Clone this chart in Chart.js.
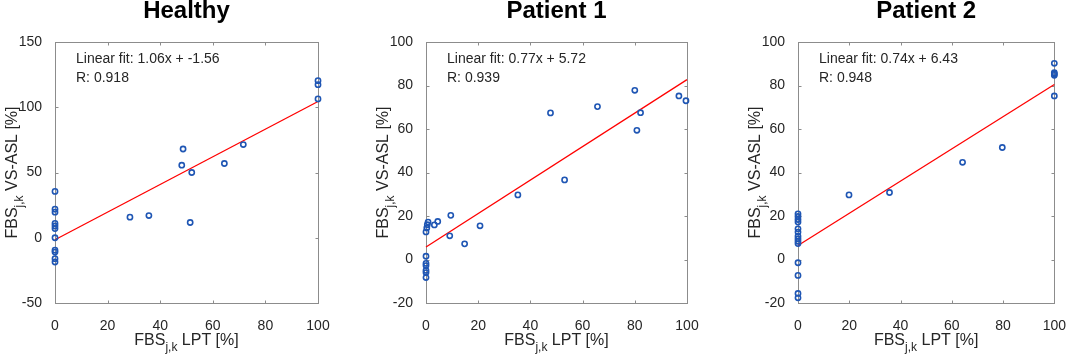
<!DOCTYPE html>
<html>
<head>
<meta charset="utf-8">
<script src="https://cdn.jsdelivr.net/npm/chart.js@4.4.0/dist/chart.umd.min.js"></script>
<style>
html, body { margin: 0; padding: 0; background: #fff; }
#wrap { position: relative; width: 1073px; height: 357px; }
#wrap canvas { position: absolute; left: 0; top: 0; }
</style>
</head>
<body>
<div id="wrap">
  <canvas id="c0" width="1073" height="357"></canvas>
  <canvas id="c1" width="1073" height="357"></canvas>
  <canvas id="c2" width="1073" height="357"></canvas>
</div>
<script>
// panel titles and fit results (as printed on the figure)
const panelTitles = ['Healthy', 'Patient 1', 'Patient 2'];
const fitSlope = [1.06, 0.77, 0.74];
const fitIntercept = [-1.56, 5.72, 6.43];
const fitR = ['0.918', '0.939', '0.948'];

// FBS LPT [%] vs FBS VS-ASL [%]
const healthyX = [0, 0, 0, 0, 0, 0, 0, 0, 0, 0, 0, 28.5, 35.7, 48.7, 48.2, 52, 51.4, 64.4, 71.6, 100, 100, 100];
const healthyY = [35.5, 21.9, 19.6, 11, 9, 7, 0, -9.5, -11, -16, -18.6, 15.8, 17, 68, 55.6, 50, 11.7, 56.9, 71.4, 120.4, 117.3, 106.4];

const patient1X = [0, 0, 0, 0, 0, 0, 0, 0.3, 0.5, 0.8, 3.2, 4.5, 9.5, 9.1, 14.8, 20.7, 35.2, 47.7, 53.1, 65.7, 80, 80.8, 82.2, 96.9, 99.6];
const patient1Y = [1.5, -1.8, -2.8, -5, -6, -8.3, 12.7, 14.5, 16, 17.2, 15.9, 17.5, 20.3, 10.9, 7.2, 15.5, 29.7, 67.4, 36.6, 70.3, 77.8, 59.4, 67.5, 75.2, 73];

const patient2X = [0, 0, 0, 0, 0, 0, 0, 0, 0, 0, 0, 0, 0, 0, 19.9, 35.7, 64.2, 79.7, 100, 100, 100, 100, 100];
const patient2Y = [21, 19.8, 18.4, 17.2, 14.1, 12.6, 10.7, 9.5, 8.4, 7.3, -1.5, -7.3, -15.6, -17.6, 29.7, 30.8, 44.7, 51.5, 90.2, 85.9, 85.3, 84.7, 75.2];

// axis ranges
const xMin = 0, xMax = 100, xStep = 20;
const yMins = [-50, -20, -20];
const yMaxs = [150, 100, 100];
const ySteps = [50, 20, 20];

const seriesX = [healthyX, patient1X, patient2X];
const seriesY = [healthyY, patient1Y, patient2Y];

// where each axes box sits on the page
const plotLeft = [55, 426, 798];
const plotRight = [318, 687, 1060];
const plotTop = 42, plotBottom = 303;
const Y_AXIS_W = 50, X_AXIS_H = 30;

const FONT = "'Liberation Sans', Arial, Helvetica, sans-serif";
const TXT = '#262626';
const AXC = '#8c8c8c';

function drawParts(ctx, parts, cx, cy, rotate) {
  // parts: [text, size, baselineShift]
  let total = 0;
  parts.forEach(p => { ctx.font = p[1] + 'px ' + FONT; total += ctx.measureText(p[0]).width; });
  ctx.save();
  ctx.translate(cx, cy);
  if (rotate) ctx.rotate(-Math.PI / 2);
  let x = -total / 2;
  ctx.textBaseline = 'alphabetic';
  ctx.textAlign = 'left';
  parts.forEach(p => {
    ctx.font = p[1] + 'px ' + FONT;
    ctx.fillText(p[0], x, p[2]);
    x += ctx.measureText(p[0]).width;
  });
  ctx.restore();
}

const frame = {
  id: 'frame',
  beforeDatasetsDraw(chart) {
    const ctx = chart.ctx, a = chart.chartArea;
    const xs = chart.scales.x, ys = chart.scales.y;
    ctx.save();
    ctx.strokeStyle = AXC;
    ctx.lineWidth = 1;
    const L = Math.round(a.left) + 0.5, R = Math.round(a.right) + 0.5;
    const T = Math.round(a.top) + 0.5, B = Math.round(a.bottom) + 0.5;
    ctx.strokeRect(L, T, R - L, B - T);
    ctx.beginPath();
    xs.ticks.forEach(t => {
      if (t.value === xs.min || t.value === xs.max) return;
      const p = Math.round(xs.getPixelForValue(t.value)) + 0.5;
      ctx.moveTo(p, B); ctx.lineTo(p, B - 3);
      ctx.moveTo(p, T); ctx.lineTo(p, T + 3);
    });
    ys.ticks.forEach(t => {
      if (t.value === ys.min || t.value === ys.max) return;
      const p = Math.round(ys.getPixelForValue(t.value)) + 0.5;
      ctx.moveTo(L, p); ctx.lineTo(L + 3, p);
      ctx.moveTo(R, p); ctx.lineTo(R - 3, p);
    });
    ctx.stroke();
    ctx.restore();
  },
  afterDraw(chart, args, opts) {
    const ctx = chart.ctx, a = chart.chartArea;
    const cx = (a.left + a.right) / 2, cy = (a.top + a.bottom) / 2;
    ctx.save();
    ctx.fillStyle = '#000';
    ctx.font = 'bold 24px ' + FONT;
    ctx.textAlign = 'center';
    ctx.textBaseline = 'alphabetic';
    ctx.fillText(opts.title, cx, 18);

    ctx.fillStyle = TXT;
    ctx.font = '14px ' + FONT;
    ctx.textAlign = 'left';
    ctx.fillText(opts.fit, a.left + 21, 63);
    ctx.fillText(opts.r, a.left + 21, 82);

    drawParts(ctx, [['FBS', 16, 0], ['j,k', 12, 6], [' LPT [%]', 16, 0]], cx, 345, false);
    ctx.save();
    ctx.translate(a.left - 38, cy);
    drawParts(ctx, [['FBS', 16, 0], ['j,k', 12, 6], [' VS-ASL [%]', 16, 0]], 0, 0, true);
    ctx.restore();
    ctx.restore();
  }
};

function fmt(v) { return v.toFixed(2); }

for (let i = 0; i < 3; i++) {
  const pts = seriesX[i].map((x, k) => ({ x: x, y: seriesY[i][k] }));
  const fitLine = [
    { x: xMin, y: fitSlope[i] * xMin + fitIntercept[i] },
    { x: xMax, y: fitSlope[i] * xMax + fitIntercept[i] }
  ];
  const fitText = 'Linear fit: ' + fitSlope[i].toFixed(2) + 'x + ' + fmt(fitIntercept[i]);

  new Chart(document.getElementById('c' + i), {
    type: 'scatter',
    data: {
      datasets: [
        {
          label: 'data',
          data: pts,
          pointStyle: 'circle',
          pointRadius: 2.6,
          pointBorderWidth: 1.6,
          borderColor: '#1f56b4',
          backgroundColor: 'rgba(0,0,0,0)',
          clip: false
        },
        {
          label: 'fit',
          type: 'line',
          data: fitLine,
          borderColor: '#ff0000',
          borderWidth: 1.3,
          pointRadius: 0,
          fill: false,
          clip: false
        }
      ]
    },
    options: {
      animation: false,
      responsive: false,
      devicePixelRatio: 1,
      layout: {
        padding: {
          left: plotLeft[i] - Y_AXIS_W,
          right: 1073 - plotRight[i],
          top: plotTop,
          bottom: 357 - plotBottom - X_AXIS_H
        }
      },
      plugins: {
        legend: { display: false },
        tooltip: { enabled: false },
        frame: { title: panelTitles[i], fit: fitText, r: 'R: ' + fitR[i] }
      },
      scales: {
        x: {
          type: 'linear',
          min: xMin,
          max: xMax,
          grid: { display: false },
          border: { display: false },
          ticks: {
            stepSize: xStep,
            color: TXT,
            padding: 7,
            maxRotation: 0,
            font: { family: FONT, size: 14 }
          },
          afterFit: s => { s.height = X_AXIS_H; }
        },
        y: {
          type: 'linear',
          min: yMins[i],
          max: yMaxs[i],
          grid: { display: false },
          border: { display: false },
          ticks: {
            stepSize: ySteps[i],
            color: TXT,
            padding: 5,
            font: { family: FONT, size: 14 }
          },
          afterFit: s => { s.width = Y_AXIS_W; }
        }
      }
    },
    plugins: [frame]
  });
}
</script>
</body>
</html>
